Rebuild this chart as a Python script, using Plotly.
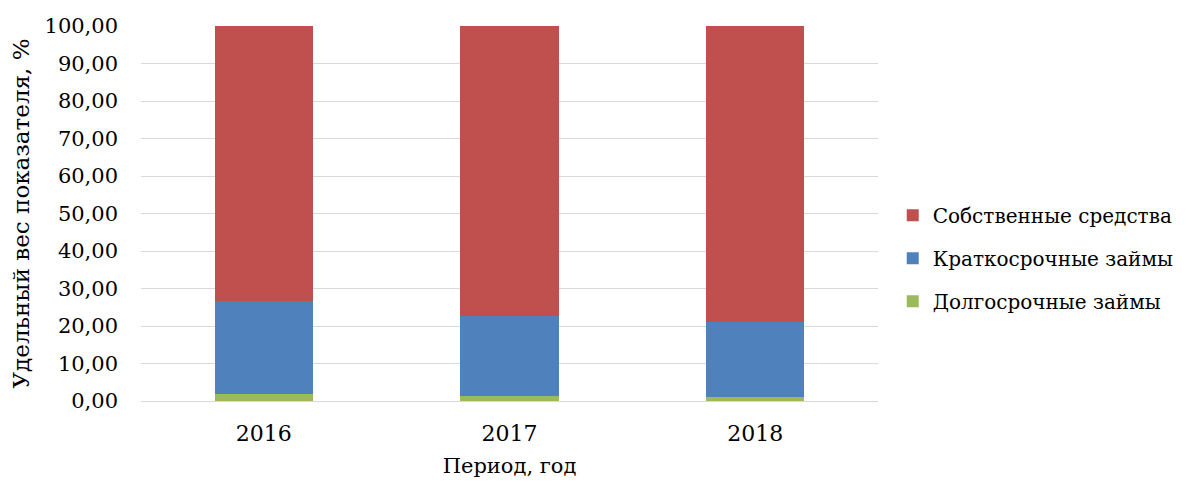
import plotly.graph_objects as go

years = ["2016", "2017", "2018"]
long_loans = [1.8, 1.3, 1.2]
short_loans = [25.0, 21.4, 19.9]
own_funds = [73.2, 77.3, 78.9]

names = ["Долгосрочные займы", "Краткосрочные займы", "Собственные средства"]
colors = ["#9BBB59", "#4F81BD", "#C0504D"]
series = [long_loans, short_loans, own_funds]
ranks = [3, 2, 1]

fig = go.Figure()
for i, (n, c, v) in enumerate(zip(names, colors, series)):
    fig.add_trace(go.Bar(x=years, y=v, name=n, marker=dict(color=c, line=dict(width=0)),
                         legendgroup=f"g{i}", legendrank=ranks[i]))

font = "DejaVu Serif"
fig.update_layout(
    barmode="stack",
    bargap=0.6,
    width=1192, height=476,
    margin=dict(l=133, r=322, t=18, b=83, autoexpand=False),
    plot_bgcolor="white", paper_bgcolor="white",
    separators=", ",
    font=dict(family=font, size=21, color="black"),
    legend=dict(x=1.02, xanchor="left", y=0.381, yanchor="middle",
                traceorder="grouped", tracegroupgap=14,
                font=dict(family=font, size=20, color="black"),
                itemwidth=30),
    xaxis=dict(showline=True, linecolor="#D9D9D9", linewidth=1, ticks="",
               automargin=False, ticklabelstandoff=13,
               tickfont=dict(family=font, size=22),
               title=dict(text="Период, год", standoff=12,
                          font=dict(family=font, size=21))),
    yaxis=dict(range=[0, 100], dtick=10, tick0=0, tickformat=".2f",
               showgrid=True, gridcolor="#D9D9D9", gridwidth=1,
               zeroline=False, ticks="", ticklabelstandoff=22,
               automargin=False,
               tickfont=dict(family=font, size=21),
               title=dict(text="Удельный вес показателя, %", standoff=9,
                          font=dict(family=font, size=23))),
)
fig.write_html("out.html")
